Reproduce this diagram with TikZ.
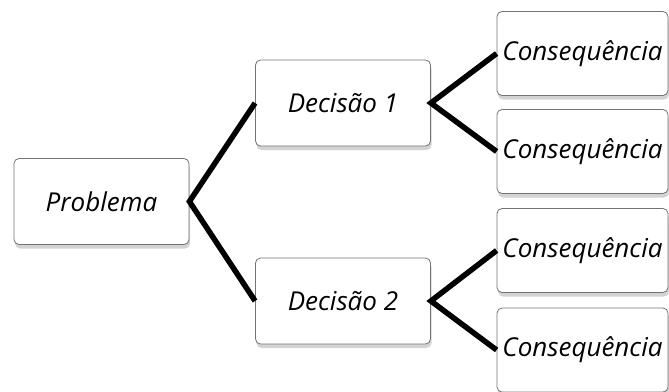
\documentclass[tikz,border=0pt]{standalone}
\usepackage{fontspec}
\setmainfont{Open Sans}
\usepackage{tikz}
\usetikzlibrary{
    shadows,
    positioning
}

\tikzset{
    box/.style={draw=black!55, line width=0.8pt, fill=white, rounded corners=5pt,
        inner xsep=2pt, minimum width=175pt, minimum height=86pt,
        font=\itshape\fontsize{26}{28}\selectfont,
        drop shadow={shadow xshift=1pt, shadow yshift=-4pt, opacity=0.35}},
    cons/.style={box, minimum width=171pt, minimum height=84pt},
    branch/.style={line width=5.5pt, line join=miter}
}

\begin{document}
\begin{tikzpicture}[x=1pt, y=-1pt]
                        \useasboundingbox (0, 0) rectangle (669, 391);
                        \node[box] (p) at (101.5, 201.5) {Problema};
                        \node[box] (d1) at (343, 103) {Decisão 1};
                        \node[box] (d2) at (343, 301) {Decisão 2};
                        \node[cons] (c1) at (582.5, 53.5) {Consequência};
                        \node[cons] (c2) at (582.5, 151.5) {Consequência};
                        \node[cons] (c3) at (582.5, 250.5) {Consequência};
                        \node[cons] (c4) at (582.5, 350) {Consequência};
                        \draw[branch] (d1.west) -- (p.east) -- (d2.west);
                        \draw[branch] (c1.west) -- (d1.east) -- (c2.west);
                        \draw[branch] (c3.west) -- (d2.east) -- (c4.west);
                    \end{tikzpicture}
\end{document}
